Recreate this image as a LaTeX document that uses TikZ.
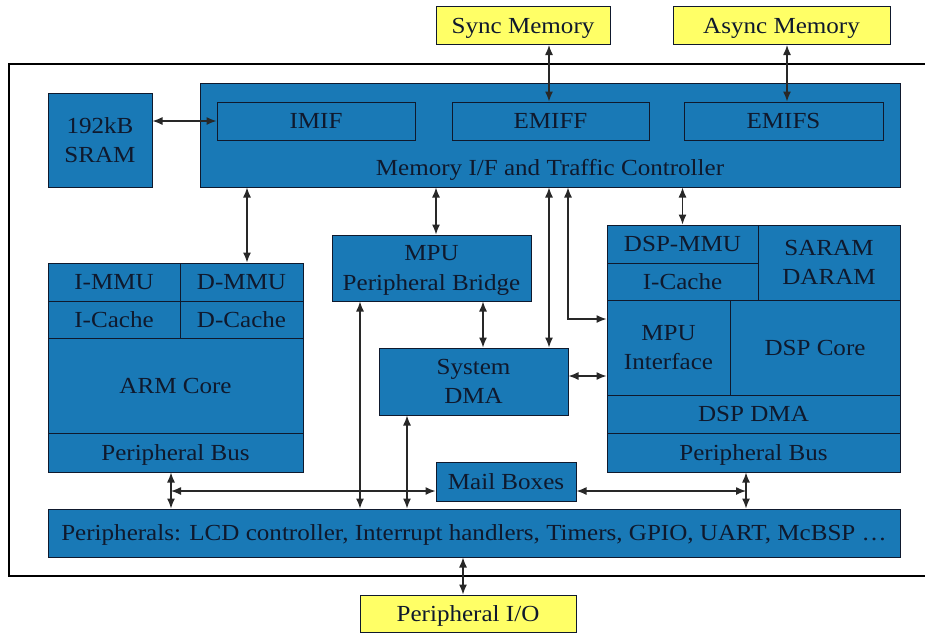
\documentclass[tikz,border=0pt]{standalone}
\usepackage{fontspec}
\setmainfont{Liberation Serif}[FakeStretch=1.09]
\usetikzlibrary{arrows.meta}
\definecolor{bfill}{RGB}{25,121,182}
\definecolor{ylw}{RGB}{255,255,102}
\definecolor{ink}{RGB}{15,25,45}
\definecolor{wire}{RGB}{40,40,40}
\begin{document}
\begin{tikzpicture}[x=1pt,y=-1pt,
  box/.style={draw=ink, line width=1pt, fill=bfill, text=ink, inner sep=0pt,
    text depth=0pt, align=center, font=\fontsize{23}{29.5}\selectfont},
  ybox/.style={box, fill=ylw},
  lbl/.style={text=ink, inner sep=0pt, text depth=0pt, font=\fontsize{23}{29.5}\selectfont},
  con/.style={draw=wire, line width=1.3pt,
    {Latex[length=10pt,width=8pt]}-{Latex[length=10pt,width=8pt]}},
]
\useasboundingbox (0,0) rectangle (925,633);
\clip (0,0) rectangle (925,633);
\fill[white] (0,0) rectangle (925,633);
\draw[line width=2pt, black] (9,64) rectangle (940,576);

% external memories
\node[ybox, minimum width=174pt, minimum height=38pt] (sync) at (523,25.5) {Sync Memory};
\node[ybox, minimum width=217pt, minimum height=38pt] (async) at (781.5,25.5) {Async Memory};

% SRAM and memory controller
\node[box, minimum width=104pt, minimum height=94pt] (sram) at (100,140) {192kB\\SRAM};
\node[box, minimum width=700pt, minimum height=104pt] (mem) at (550,135) {};
\node[lbl] (memlbl) at (550,167) {Memory I/F and Traffic Controller};
\node[box, minimum width=198pt, minimum height=38pt] (imif) at (316,121) {IMIF};
\node[box, minimum width=197pt, minimum height=38pt] (emiff) at (550.5,121) {EMIFF};
\node[box, minimum width=199pt, minimum height=38pt] (emifs) at (783.5,121) {EMIFS};

% ARM block
\node[box, minimum width=132pt, minimum height=38pt] (immu) at (114,282) {I-MMU};
\node[box, minimum width=123pt, minimum height=38pt] (dmmu) at (241.5,282) {D-MMU};
\node[box, minimum width=132pt, minimum height=37pt] (icache) at (114,319.5) {I-Cache};
\node[box, minimum width=123pt, minimum height=37pt] (dcache) at (241.5,319.5) {D-Cache};
\node[box, minimum width=255pt, minimum height=95pt] (armcore) at (175.5,385.5) {ARM Core};
\node[box, minimum width=255pt, minimum height=39pt] (armbus) at (175.5,452.5) {Peripheral Bus};

% bridge and DMA
\node[box, minimum width=199pt, minimum height=66pt] (bridge) at (431.5,268) {MPU\\Peripheral Bridge};
\node[box, minimum width=189pt, minimum height=67pt] (sysdma) at (473.5,381.5) {System\\DMA};

% DSP block
\node[box, minimum width=151pt, minimum height=38pt] (dspmmu) at (682.5,244) {DSP-MMU};
\node[box, minimum width=151pt, minimum height=37pt] (dspicache) at (682.5,281.5) {I-Cache};
\node[box, minimum width=142pt, minimum height=75pt] (saram) at (829,262.5) {SARAM\\DARAM};
\node[box, minimum width=123pt, minimum height=95pt] (mpuif) at (668.5,347.5) {MPU\\Interface};
\node[box, minimum width=170pt, minimum height=95pt] (dspcore) at (815,347.5) {DSP Core};
\node[box, minimum width=293pt, minimum height=38pt] (dspdma) at (753.5,414) {DSP DMA};
\node[box, minimum width=293pt, minimum height=39pt] (dspbus) at (753.5,452.5) {Peripheral Bus};

% mail boxes, peripherals, I/O
\node[box, minimum width=140pt, minimum height=39pt] (mail) at (506,481.5) {Mail Boxes};
\node[box, minimum width=852pt, minimum height=48pt] (periph) at (474,533) {Peripherals: LCD controller, Interrupt handlers, Timers, GPIO, UART, McBSP …};
\node[ybox, minimum width=216pt, minimum height=37pt] (pio) at (468,613.5) {Peripheral I/O};

% connectors
\draw[con] (sram.east |- imif.west) -- (imif.west);
\coordinate (a2) at ([xshift=-1.5pt]emiff.north);
\draw[con] (a2) -- (a2 |- sync.south);
\coordinate (a3) at ([xshift=3.5pt]emifs.north);
\draw[con] (a3) -- (a3 |- async.south);
\coordinate (a4) at ([xshift=5.5pt]dmmu.north);
\draw[con] (a4 |- mem.south) -- (a4);
\coordinate (a5) at ([xshift=4.5pt]bridge.north);
\draw[con] (a5 |- mem.south) -- (a5);
\coordinate (a6) at ([xshift=75.5pt]sysdma.north);
\draw[con] (a6 |- mem.south) -- (a6);
\coordinate (a7) at ([yshift=28.5pt]mpuif.west);
\coordinate (a7t) at ([xshift=18pt]mem.south);
\draw[con] (a7t) |- (a7);
\draw[con] (dspmmu.north |- mem.south) -- (dspmmu.north);
\coordinate (a9) at ([xshift=9.5pt]sysdma.north);
\draw[con] (a9 |- bridge.south) -- (a9);
\coordinate (a10) at ([yshift=5.5pt]sysdma.east);
\draw[con] (a10) -- (a10 -| mpuif.west);
\coordinate (a11) at ([xshift=-71.5pt]bridge.south);
\draw[con] (a11) -- (a11 |- periph.north);
\coordinate (a12) at ([xshift=-66.5pt]sysdma.south);
\draw[con] (a12) -- (a12 |- periph.north);
\coordinate (a13) at ([xshift=-4.5pt]armbus.south);
\draw[con] (a13) -- (a13 |- periph.north);
\coordinate (a14) at ([xshift=-7.5pt]dspbus.south);
\draw[con] (a14) -- (a14 |- periph.north);
\coordinate (a15) at ([yshift=-9.5pt]mail.west);
\draw[con] (a15) -- (a15 -| a13);
\coordinate (a16) at ([yshift=-9.5pt]mail.east);
\draw[con] (a16) -- (a16 -| a14);
\coordinate (a17) at ([xshift=-5pt]pio.north);
\draw[con] (a17) -- (a17 |- periph.south);
\end{tikzpicture}
\end{document}
